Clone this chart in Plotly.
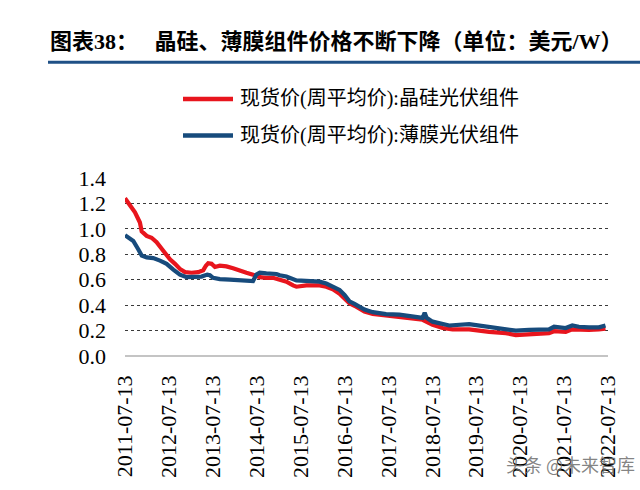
import plotly.graph_objects as go

# ---- data ----
cs_dates = ["2011-07-13", "2011-08-23", "2011-10-04", "2011-11-14", "2011-11-29", "2012-01-09",
            "2012-02-19", "2012-04-01", "2012-05-13", "2012-06-23", "2012-07-21", "2012-09-01",
            "2012-10-12", "2012-11-23", "2013-01-17", "2013-03-13", "2013-04-24", "2013-05-16",
            "2013-06-04", "2013-07-02", "2013-07-30", "2013-09-09", "2013-11-03", "2013-12-28",
            "2014-02-21", "2014-04-18", "2014-06-12", "2014-08-07", "2014-10-01", "2014-11-25",
            "2015-01-20", "2015-03-17", "2015-05-11", "2015-06-08", "2015-08-30", "2015-12-18",
            "2016-02-11", "2016-04-06", "2016-06-01", "2016-07-12", "2016-08-22", "2016-10-03",
            "2016-11-13", "2016-12-25", "2017-03-04", "2017-06-23", "2017-10-11", "2018-01-30",
            "2018-04-23", "2018-07-15", "2018-10-06", "2018-12-28", "2019-05-15", "2019-10-28",
            "2020-03-15", "2020-06-06", "2020-09-24", "2021-01-12", "2021-03-09", "2021-04-20",
            "2021-07-26", "2021-09-19", "2021-11-13", "2022-02-04", "2022-04-28", "2022-06-22"]
cs_values = [1.24, 1.19, 1.13, 1.05, 0.98, 0.945,
             0.93, 0.895, 0.84, 0.80, 0.76, 0.725,
             0.685, 0.66, 0.655, 0.66, 0.675, 0.71,
             0.73, 0.725, 0.70, 0.71, 0.705, 0.69,
             0.67, 0.655, 0.64, 0.62, 0.615, 0.615,
             0.60, 0.585, 0.555, 0.545, 0.555, 0.555,
             0.545, 0.525, 0.49, 0.45, 0.415, 0.395,
             0.375, 0.35, 0.33, 0.32, 0.31, 0.30,
             0.285, 0.245, 0.22, 0.21, 0.21, 0.19,
             0.18, 0.165, 0.17, 0.17, 0.18, 0.195,
             0.19, 0.21, 0.205, 0.205, 0.21, 0.215]

tf_dates = ["2011-07-13", "2011-08-23", "2011-09-20", "2011-10-31", "2011-11-29", "2012-01-09",
            "2012-03-04", "2012-04-29", "2012-06-23", "2012-08-18", "2012-10-12", "2012-12-07",
            "2013-01-31", "2013-04-10", "2013-05-27", "2013-06-18", "2013-07-15", "2013-09-09",
            "2013-12-01", "2014-02-21", "2014-05-15", "2014-06-12", "2014-07-10", "2014-08-07",
            "2014-10-01", "2014-12-24", "2015-01-20", "2015-03-17", "2015-06-08", "2015-08-30",
            "2015-12-18", "2016-02-11", "2016-04-06", "2016-06-01", "2016-07-12", "2016-08-22",
            "2016-10-03", "2016-11-13", "2016-12-25", "2017-03-04", "2017-06-23", "2017-10-11",
            "2018-01-30", "2018-04-23", "2018-05-10", "2018-05-26", "2018-07-15", "2018-09-08",
            "2018-11-30", "2019-05-15", "2019-10-28", "2020-03-15", "2020-06-06", "2020-09-24",
            "2021-01-12", "2021-03-09", "2021-04-20", "2021-06-15", "2021-07-26", "2021-09-19",
            "2021-11-13", "2022-02-04", "2022-04-28", "2022-06-22"]
tf_values = [0.95, 0.925, 0.905, 0.84, 0.79, 0.775,
             0.77, 0.75, 0.725, 0.68, 0.64, 0.62,
             0.62, 0.625, 0.64, 0.635, 0.615, 0.605,
             0.60, 0.595, 0.59, 0.59, 0.64, 0.655,
             0.65, 0.645, 0.635, 0.625, 0.595, 0.59,
             0.585, 0.57, 0.545, 0.52, 0.48, 0.43,
             0.41, 0.39, 0.365, 0.345, 0.33, 0.325,
             0.31, 0.30, 0.34, 0.30, 0.27, 0.255,
             0.24, 0.25, 0.23, 0.21, 0.20, 0.205,
             0.205, 0.21, 0.23, 0.225, 0.22, 0.24,
             0.23, 0.225, 0.225, 0.24]

x_tick_labels = ["2011-07-13", "2012-07-13", "2013-07-13", "2014-07-13", "2015-07-13", "2016-07-13",
                 "2017-07-13", "2018-07-13", "2019-07-13", "2020-07-13", "2021-07-13", "2022-07-13"]
y_tick_values = [0.0, 0.2, 0.4, 0.6, 0.8, 1.0, 1.2, 1.4]

series_names = ["现货价(周平均价):晶硅光伏组件", "现货价(周平均价):薄膜光伏组件"]
title_text = "图表38：\u00a0\u00a0\u00a0晶硅、薄膜组件价格不断下降（单位：美元/W）"
watermark = "头条 @未来智库"

RED = "#E8151D"
BLUE = "#174B7C"

# ---- layout geometry (pixels) ----
W, H = 640, 490
L, R, T, B = 125, 32, 178, 132
PW, PH = W - L - R, H - T - B


def px(x):
    return (x - L) / PW


def py(y):
    return (H - B - y) / PH


fig = go.Figure()
fig.add_trace(go.Scatter(x=cs_dates, y=cs_values, mode="lines", name=series_names[0],
                         line=dict(color=RED, width=4.2), showlegend=False))
fig.add_trace(go.Scatter(x=tf_dates, y=tf_values, mode="lines", name=series_names[1],
                         line=dict(color=BLUE, width=4.2), showlegend=False))

serif = "Liberation Serif, Times New Roman, Noto Sans CJK SC"

fig.update_layout(
    width=W, height=H,
    margin=dict(l=L, r=R, t=T, b=B, pad=0),
    paper_bgcolor="white", plot_bgcolor="white",
    font=dict(family=serif, size=22, color="black"),
    xaxis=dict(type="date", range=[x_tick_labels[0], x_tick_labels[-1]],
               tickvals=x_tick_labels, ticktext=x_tick_labels, tickangle=-90,
               showgrid=False, zeroline=False, showline=False, ticks="",
               ticklabelstandoff=14,
               tickfont=dict(family=serif, size=22, color="black")),
    yaxis=dict(range=[0, 1.4], tickvals=y_tick_values, tickformat=".1f",
               showgrid=True, gridcolor="#3a3a3a", griddash="dot", gridwidth=1,
               zeroline=True, zerolinecolor="#c4c4c4", zerolinewidth=1.5,
               showline=False, ticks="", ticklabelstandoff=18,
               tickfont=dict(family=serif, size=22, color="black")),
)

# title and rule
fig.add_annotation(text="<b>" + title_text + "</b>", xref="paper", yref="paper",
                   x=px(48), y=py(40), xanchor="left", yanchor="middle", showarrow=False,
                   font=dict(family="Liberation Serif, Noto Sans CJK SC", size=22, color="black"))
fig.add_shape(type="line", xref="paper", yref="paper", x0=px(48), x1=px(640), y0=py(61), y1=py(61),
              line=dict(color="#1F5086", width=3))

# manual legend
for i, (yy, col) in enumerate([(98, RED), (135, BLUE)]):
    fig.add_shape(type="line", xref="paper", yref="paper", x0=px(183), x1=px(233),
                  y0=py(yy), y1=py(yy), line=dict(color=col, width=4.5))
    fig.add_annotation(text=series_names[i], xref="paper", yref="paper", x=px(238), y=py(yy),
                       xanchor="left", yanchor="middle", showarrow=False,
                       font=dict(family=serif, size=20, color="black"))

# watermark
fig.add_annotation(text=watermark, xref="paper", yref="paper", x=px(570), y=py(467),
                   xanchor="center", yanchor="middle", showarrow=False,
                   font=dict(family="Noto Sans CJK SC", size=18, color="rgba(110,110,110,0.85)"))

fig.write_html("out.html")
